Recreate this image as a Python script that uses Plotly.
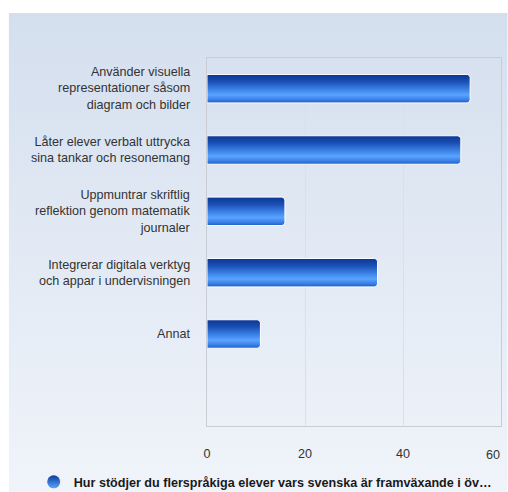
import base64
import plotly.graph_objects as go

# Survey answers (share of respondents, %)
categories = [
    "Använder visuella<br>representationer såsom<br>diagram och bilder",
    "Låter elever verbalt uttrycka<br>sina tankar och resonemang",
    "Uppmuntrar skriftlig<br>reflektion genom matematik<br>journaler",
    "Integrerar digitala verktyg<br>och appar i undervisningen",
    "Annat",
]
values = [53.7, 51.8, 15.9, 34.8, 10.9]
series_name = "Hur stödjer du flerspråkiga elever vars svenska är framväxande i öv…"
x_ticks = [0, 20, 40, 60]

W, H = 508, 492
M_L, M_R, M_T, M_B = 207.3, 6.7, 57.5, 66.2
PW, PH = W - M_L - M_R, H - M_T - M_B

BAR_W = 0.464          # bar thickness as a fraction of a category slot
N_SLOTS = 6            # one empty slot below the last bar
X_MAX = 60
FONT = "Liberation Sans, Arial, sans-serif"
FS = 12.6
TICK_LABEL_DY = 28.5   # distance of the x tick labels below the plot

# vertical shading of the bars, listed from the bottom edge up
bar_scale = [
    [0.0, "#1e5ec6"],
    [0.12, "#3a80e6"],
    [0.28, "#5aa4ff"],
    [0.45, "#3f86ea"],
    [0.75, "#1a4fb4"],
    [1.0, "#0a3792"],
]


def rounded_bar(value, idx):
    """Outline of a horizontal bar with softly rounded right corners."""
    rx = 3.0 * X_MAX / PW
    ry = 3.0 * N_SLOTS / PH
    y0, y1 = idx - BAR_W / 2, idx + BAR_W / 2
    xs = [0, value - rx, value - rx * 0.3, value, value, value - rx * 0.3, value - rx, 0, 0]
    ys = [y0, y0, y0 + ry * 0.3, y0 + ry, y1 - ry, y1 - ry * 0.3, y1, y1, y0]
    return xs, ys


fig = go.Figure()

for i, v in enumerate(values):
    xs, ys = rounded_bar(v, i)
    fig.add_trace(go.Scatter(
        x=xs, y=ys, mode="lines", fill="toself",
        line=dict(color="white", width=1),
        fillgradient=dict(type="vertical", colorscale=bar_scale),
        showlegend=False, hoverinfo="skip",
    ))

# Legend entry for the series
fig.add_trace(go.Scatter(
    x=[None], y=[None], mode="markers", name=series_name,
    marker=dict(symbol="circle", size=13, color="#0b3d9c",
                gradient=dict(type="vertical", color="#5aa4ff")),
    showlegend=True,
))

# Right-aligned category labels beside each bar
for i, label in enumerate(categories):
    fig.add_annotation(
        x=-15 / PW, xref="paper", xanchor="right",
        y=i, yref="y", yanchor="middle",
        text=label, align="right", showarrow=False,
        font=dict(family=FONT, size=FS, color="#333333"),
    )

# The last x tick label is pulled inside the figure edge
fig.add_annotation(
    x=x_ticks[-1], xref="x", xanchor="right", xshift=1,
    y=0, yref="paper", yanchor="middle", yshift=-TICK_LABEL_DY,
    text=str(x_ticks[-1]), showarrow=False,
    font=dict(family=FONT, size=FS, color="#333333"),
)

# Soft blue panel behind the chart
svg = (
    '<svg xmlns="http://www.w3.org/2000/svg" width="100" height="100" preserveAspectRatio="none">'
    '<defs><linearGradient id="g" x1="0" y1="0" x2="0" y2="1">'
    '<stop offset="0" stop-color="#d4dfee"/>'
    '<stop offset="1" stop-color="#f0f4fa"/>'
    '</linearGradient></defs>'
    '<rect width="100" height="100" fill="url(#g)"/></svg>'
)
bg_src = "data:image/svg+xml;base64," + base64.b64encode(svg.encode()).decode()
panel_left, panel_top = 9, 12.5
fig.add_layout_image(
    source=bg_src, xref="paper", yref="paper",
    x=(panel_left - M_L) / PW, y=1 + (M_T - panel_top) / PH,
    sizex=(W - panel_left) / PW, sizey=(H - panel_top) / PH,
    xanchor="left", yanchor="top", sizing="stretch", layer="below",
)

fig.update_layout(
    width=W, height=H,
    margin=dict(l=M_L, r=M_R, t=M_T, b=M_B, pad=0, autoexpand=False),
    paper_bgcolor="white",
    plot_bgcolor="rgba(0,0,0,0)",
    font=dict(family=FONT, size=FS, color="#333333"),
    showlegend=True,
    legend=dict(
        orientation="h", x=(34 - M_L) / PW, xanchor="left",
        y=-(467 - (H - M_B)) / PH, yanchor="top",
        font=dict(family=FONT, size=FS, color="#1a1a1a", weight="bold"),
        bgcolor="rgba(0,0,0,0)", itemwidth=30,
    ),
    xaxis=dict(
        range=[0, X_MAX], tickvals=x_ticks,
        ticktext=[str(t) for t in x_ticks[:-1]] + [""],
        showgrid=True, gridcolor="#dcdfe5", gridwidth=1,
        showline=True, linecolor="#c9ccd2", linewidth=1, mirror=True,
        zeroline=False, ticks="", ticklabelstandoff=16, automargin=False,
        ticklabeloverflow="allow",
        tickfont=dict(size=FS, color="#333333"),
    ),
    yaxis=dict(
        range=[N_SLOTS - 0.5, -0.5],
        tickvals=list(range(len(categories))), showticklabels=False,
        showgrid=False, zeroline=False,
        showline=True, linecolor="#c9ccd2", linewidth=1, mirror=True,
        ticks="", automargin=False,
    ),
)

fig.write_html("out.html")
